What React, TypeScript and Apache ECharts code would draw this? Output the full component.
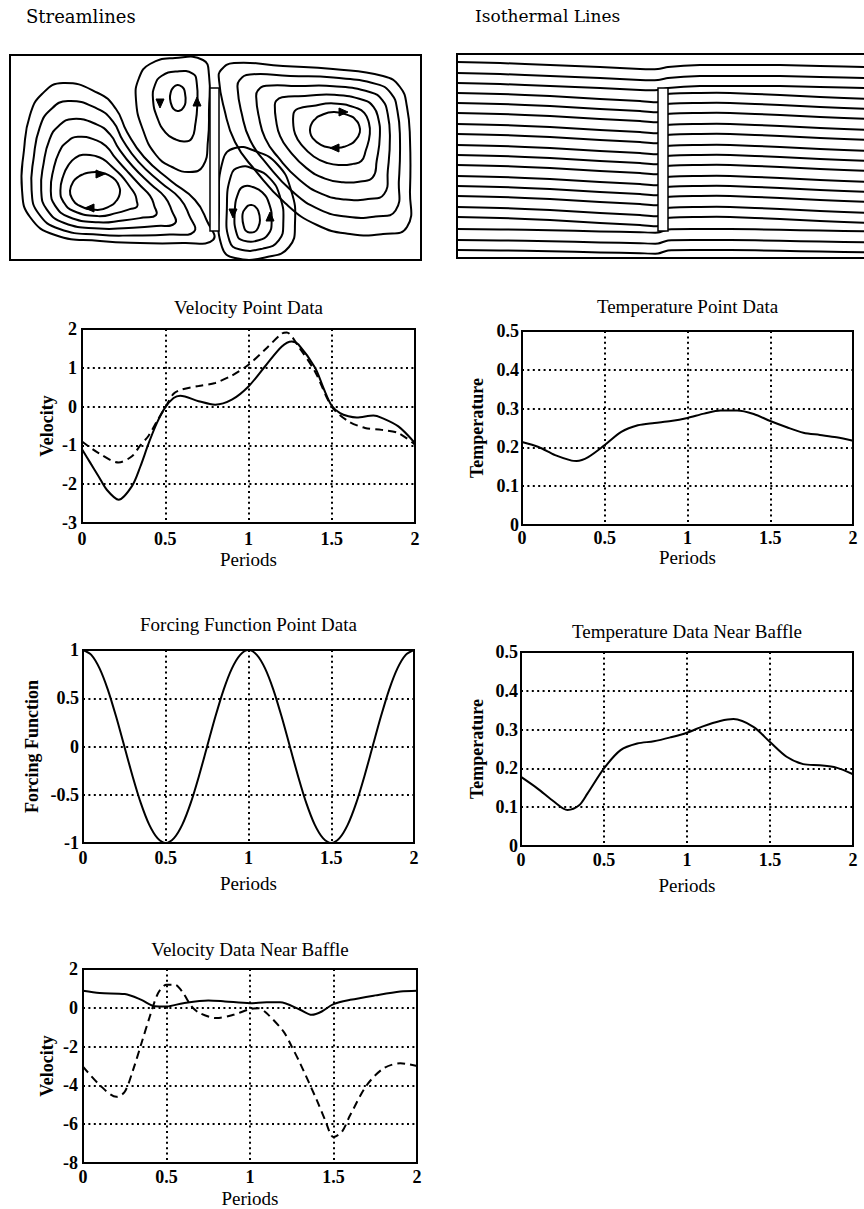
import React, { useEffect, useRef } from "react";
import * as echarts from "echarts";

// ---- Line chart data: [period, value] ----
const velocityPointSolid = [
  [0, -1.1], [0.05, -1.45], [0.1, -1.8], [0.15, -2.15], [0.22, -2.4], [0.3, -2.05], [0.35, -1.55],
  [0.4, -0.95], [0.45, -0.42], [0.5, -0.02], [0.55, 0.22], [0.59, 0.28], [0.7, 0.14], [0.8, 0.05],
  [0.9, 0.18], [1.0, 0.52], [1.1, 1.04], [1.2, 1.55], [1.26, 1.68], [1.3, 1.6], [1.4, 1.0],
  [1.45, 0.48], [1.5, 0.02], [1.55, -0.17], [1.6, -0.25], [1.65, -0.28], [1.75, -0.23],
  [1.8, -0.29], [1.9, -0.51], [2.0, -0.94],
];
const velocityPointDashed = [
  [0, -0.9], [0.1, -1.2], [0.22, -1.44], [0.3, -1.28], [0.35, -1.0], [0.4, -0.75], [0.45, -0.38],
  [0.5, -0.02], [0.55, 0.33], [0.6, 0.44], [0.7, 0.53], [0.8, 0.61], [0.9, 0.8], [1.0, 1.08],
  [1.1, 1.47], [1.2, 1.88], [1.23, 1.91], [1.3, 1.55], [1.4, 0.9], [1.5, 0.0], [1.6, -0.38],
  [1.7, -0.55], [1.8, -0.6], [1.9, -0.68], [2.0, -0.98],
];
const temperaturePoint = [
  [0, 0.214], [0.1, 0.201], [0.2, 0.18], [0.3, 0.166], [0.33, 0.165], [0.4, 0.175], [0.5, 0.206],
  [0.6, 0.24], [0.7, 0.257], [0.8, 0.263], [0.9, 0.268], [1.0, 0.276], [1.1, 0.287], [1.2, 0.295],
  [1.3, 0.295], [1.4, 0.286], [1.5, 0.268], [1.6, 0.252], [1.7, 0.238], [1.8, 0.232], [1.9, 0.226],
  [2.0, 0.217],
];
const forcingPeriods = [
  0, 0.05, 0.1, 0.15, 0.2, 0.25, 0.3, 0.35, 0.4, 0.45, 0.5, 0.55, 0.6, 0.65, 0.7, 0.75, 0.8, 0.85,
  0.9, 0.95, 1.0, 1.05, 1.1, 1.15, 1.2, 1.25, 1.3, 1.35, 1.4, 1.45, 1.5, 1.55, 1.6, 1.65, 1.7, 1.75,
  1.8, 1.85, 1.9, 1.95, 2.0,
];
const forcingValues = [
  1.0, 0.95, 0.81, 0.59, 0.31, 0.0, -0.31, -0.59, -0.81, -0.95, -1.0, -0.95, -0.81, -0.59, -0.31,
  0.0, 0.31, 0.59, 0.81, 0.95, 1.0, 0.95, 0.81, 0.59, 0.31, 0.0, -0.31, -0.59, -0.81, -0.95, -1.0,
  -0.95, -0.81, -0.59, -0.31, 0.0, 0.31, 0.59, 0.81, 0.95, 1.0,
];
const temperatureBaffle = [
  [0, 0.178], [0.1, 0.148], [0.2, 0.114], [0.28, 0.093], [0.35, 0.105], [0.4, 0.135], [0.5, 0.2],
  [0.6, 0.247], [0.7, 0.264], [0.8, 0.27], [0.9, 0.28], [1.0, 0.292], [1.1, 0.309], [1.2, 0.322],
  [1.28, 0.327], [1.4, 0.307], [1.5, 0.268], [1.6, 0.23], [1.7, 0.211], [1.8, 0.208], [1.9, 0.202],
  [2.0, 0.185],
];
const velocityBaffleSolid = [
  [0, 0.88], [0.1, 0.76], [0.25, 0.71], [0.35, 0.41], [0.43, 0.08], [0.5, 0.07], [0.6, 0.24],
  [0.75, 0.38], [0.85, 0.33], [1.0, 0.24], [1.1, 0.28], [1.18, 0.28], [1.3, -0.1], [1.37, -0.36],
  [1.43, -0.19], [1.5, 0.19], [1.6, 0.41], [1.75, 0.64], [1.9, 0.84], [2.0, 0.88],
];
const velocityBaffleDashed = [
  [0, -3.03], [0.1, -3.98], [0.2, -4.59], [0.25, -4.33], [0.3, -3.2], [0.35, -1.83], [0.4, -0.45],
  [0.45, 0.76], [0.5, 1.19], [0.55, 1.19], [0.6, 0.76], [0.65, 0.07], [0.7, -0.28], [0.8, -0.53],
  [0.9, -0.36], [1.0, -0.07], [1.05, -0.02], [1.1, -0.28], [1.2, -1.22], [1.25, -2.0], [1.3, -2.86],
  [1.4, -4.76], [1.45, -5.79], [1.5, -6.66], [1.55, -6.4], [1.6, -5.53], [1.7, -3.98], [1.8, -3.12],
  [1.9, -2.86], [2.0, -3.0],
];

// ---- Streamline sketch: each cell has an outer contour and an inner ellipse ----
const cells = [
  {
    cx: 95, cy: 191, rx: 25, ry: 19, loops: 6,
    outline: [[63, 83], [98, 93], [116, 109], [127, 132], [144, 157], [171, 181], [195, 200], [207, 221],
      [213, 240], [183, 243], [140, 243], [100, 241], [55, 235], [30, 217], [22, 190], [24, 150], [30, 115], [42, 94]],
  },
  {
    cx: 178, cy: 98, rx: 8, ry: 13, loops: 3,
    outline: [[150, 64], [175, 58], [203, 60], [209, 75], [209, 110], [208, 140], [203, 166], [190, 172],
      [172, 167], [156, 155], [143, 130], [136, 100], [139, 78]],
  },
  {
    cx: 251, cy: 219, rx: 9, ry: 14, loops: 4,
    outline: [[223, 160], [235, 148], [255, 151], [277, 164], [291, 190], [295, 223], [289, 247], [267, 257],
      [235, 258], [222, 247], [219, 207]],
  },
  {
    cx: 335, cy: 130, rx: 25, ry: 18, loops: 6,
    outline: [[221, 70], [234, 63], [283, 66], [333, 69], [383, 76], [400, 87], [407, 107], [410, 140],
      [410, 190], [407, 227], [383, 234], [350, 234], [317, 225], [285, 203], [255, 170], [235, 142], [224, 108], [219, 80]],
  },
];
// flow arrows: x, y, heading in degrees (screen coordinates)
const flowArrows = [
  [100, 174, 0], [90, 208, 180], [160, 103, 90], [197, 102, -90],
  [233, 213, 90], [270, 217, -90], [343, 112, 0], [335, 148, 180],
];

// ---- Isotherm sketch ----
const isothermLevels = [62, 73, 83, 93, 103, 113, 124, 134, 145, 155, 165, 176, 186, 196, 207, 217, 229, 240, 250];
const isothermProfileX = [457, 500, 550, 600, 640, 658, 668, 700, 730, 780, 820, 870];
const isothermProfileDy = [0, 1, 3, 6, 8, 9, 1, 0, 0, 2, 4, 6];
const isothermOverTopDy = [0, 1, 3, 5, 7, 7, 5, 3, 3, 3, 4, 5];

const FONT = "Liberation Serif";
const INK = "#000";

function cellLoops(c: any) {
  const out: any[] = [];
  for (let k = 0; k < c.loops; k++) {
    const t = k / (c.loops - 1);
    const pts = c.outline.map(([px, py]: number[]) => {
      const a = Math.atan2(py - c.cy, px - c.cx);
      const ex = c.cx + c.rx * Math.cos(a);
      const ey = c.cy + c.ry * Math.sin(a);
      return [px + (ex - px) * t, py + (ey - py) * t];
    });
    out.push({
      type: "polygon",
      shape: { points: pts, smooth: 0.5 },
      style: { fill: "none", stroke: INK, lineWidth: 2 },
      silent: true,
    });
  }
  return out;
}

function arrowHead([x, y, deg]: number[]) {
  const a = (deg * Math.PI) / 180;
  const c = Math.cos(a), s = Math.sin(a);
  return {
    type: "polygon",
    shape: {
      points: [
        [x + 5 * c, y + 5 * s],
        [x - 4 * c - 4 * s, y - 4 * s + 4 * c],
        [x - 4 * c + 4 * s, y - 4 * s - 4 * c],
      ],
    },
    style: { fill: INK, stroke: INK, lineWidth: 1 },
    silent: true,
  };
}

function isothermLine(base: number) {
  const over = base < 88;
  const amp = base > 225 ? 0.4 : 1;
  const profile = over ? isothermOverTopDy : isothermProfileDy;
  const pts = isothermProfileX.map((x, i) => [x, base + profile[i] * amp]);
  return {
    type: "polyline",
    shape: { points: pts, smooth: 0.2 },
    style: { fill: "none", stroke: INK, lineWidth: 2 },
    silent: true,
  };
}

const panels = [
  { title: "Velocity Point Data", yName: "Velocity", left: 82, top: 329, width: 333, height: 194,
    min: -3, max: 2, interval: 1, titleTop: 298, yGap: 26, xGap: 27, xMargin: 7, yMargin: 5,
    series: [{ data: velocityPointSolid, dashed: false }, { data: velocityPointDashed, dashed: true }] },
  { title: "Temperature Point Data", yName: "Temperature", left: 522, top: 331, width: 331, height: 194,
    min: 0, max: 0.5, interval: 0.1, titleTop: 297, yGap: 36, xGap: 23, xMargin: 4, yMargin: 3,
    series: [{ data: temperaturePoint, dashed: false }] },
  { title: "Forcing Function Point Data", yName: "Forcing Function", left: 83, top: 650, width: 331, height: 193,
    min: -1, max: 1, interval: 0.5, titleTop: 615, yGap: 42, xGap: 31, xMargin: 6, yMargin: 4,
    series: [{ data: forcingPeriods.map((p, i) => [p, forcingValues[i]]), dashed: false }] },
  { title: "Temperature Data Near Baffle", yName: "Temperature", left: 521, top: 652, width: 332, height: 194,
    min: 0, max: 0.5, interval: 0.1, titleTop: 622, yGap: 35, xGap: 30, xMargin: 5, yMargin: 3,
    series: [{ data: temperatureBaffle, dashed: false }] },
  { title: "Velocity Data Near Baffle", yName: "Velocity", left: 83, top: 969, width: 334, height: 194,
    min: -8, max: 2, interval: 2, titleTop: 940, yGap: 27, xGap: 26, xMargin: 5, yMargin: 5,
    series: [{ data: velocityBaffleSolid, dashed: false }, { data: velocityBaffleDashed, dashed: true }] },
];

function buildOption() {
  const dotted = { color: INK, width: 2, type: [2, 3.4] as any };
  const grid = panels.map((p) => ({
    left: p.left, top: p.top, width: p.width, height: p.height,
    show: true, borderColor: INK, borderWidth: 2, backgroundColor: "transparent", containLabel: false,
  }));
  const title = panels.map((p) => ({
    text: p.title, left: p.left + p.width / 2, top: p.titleTop, textAlign: "center", padding: 0,
    textStyle: { fontFamily: FONT, fontSize: 19, fontWeight: "normal", color: INK },
  }));
  const xAxis = panels.map((p, i) => ({
    type: "value", gridIndex: i, min: 0, max: 2, interval: 0.5,
    name: "Periods", nameLocation: "middle", nameGap: p.xGap,
    nameTextStyle: { fontFamily: FONT, fontSize: 19, color: INK },
    axisLine: { show: false }, axisTick: { show: false },
    axisLabel: { margin: p.xMargin, fontFamily: FONT, fontSize: 18, fontWeight: "bold", color: INK },
    splitLine: { show: true, lineStyle: dotted },
  }));
  const yAxis = panels.map((p, i) => ({
    type: "value", gridIndex: i, min: p.min, max: p.max, interval: p.interval,
    name: p.yName, nameLocation: "middle", nameRotate: 90, nameGap: p.yGap,
    nameTextStyle: { fontFamily: FONT, fontSize: 18, fontWeight: "bold", color: INK },
    axisLine: { show: false }, axisTick: { show: false },
    axisLabel: { margin: p.yMargin, fontFamily: FONT, fontSize: 18, fontWeight: "bold", color: INK },
    splitLine: { show: true, lineStyle: dotted },
  }));
  const series: any[] = [];
  panels.forEach((p, i) => {
    p.series.forEach((s) => {
      series.push({
        type: "line", xAxisIndex: i, yAxisIndex: i, data: s.data, showSymbol: false, smooth: 0.3,
        lineStyle: { color: INK, width: 2, type: s.dashed ? [8, 5] : "solid" },
        silent: true,
      });
    });
  });

  const elements: any[] = [];
  // captions
  elements.push({ type: "text", left: 26, top: 7, style: { text: "Streamlines", fontFamily: "DejaVu Serif", fontSize: 18, fill: INK } });
  elements.push({ type: "text", left: 475, top: 7, style: { text: "Isothermal Lines", fontFamily: "DejaVu Serif", fontSize: 17, fill: INK } });
  // streamline panel
  elements.push({ type: "rect", shape: { x: 10, y: 55, width: 411, height: 205 }, style: { fill: "#fff", stroke: INK, lineWidth: 2 }, silent: true });
  cells.forEach((c) => elements.push(...cellLoops(c)));
  flowArrows.forEach((a) => elements.push(arrowHead(a)));
  elements.push({ type: "rect", shape: { x: 210, y: 88, width: 9, height: 143 }, style: { fill: "#fff", stroke: INK, lineWidth: 1.5 }, silent: true });
  // isotherm panel
  elements.push({ type: "rect", shape: { x: 457, y: 54, width: 430, height: 204 }, style: { fill: "#fff", stroke: INK, lineWidth: 2 }, silent: true });
  isothermLevels.forEach((b) => elements.push(isothermLine(b)));
  elements.push({ type: "rect", shape: { x: 658, y: 88, width: 10, height: 143 }, style: { fill: "#fff", stroke: INK, lineWidth: 1.5 }, silent: true });

  return {
    animation: false,
    backgroundColor: "#fff",
    title, grid, xAxis, yAxis, series,
    graphic: { elements },
  };
}

export default function App() {
  const ref = useRef<HTMLDivElement>(null);
  useEffect(() => {
    const chart = echarts.init(ref.current!, null, { renderer: "svg" });
    chart.setOption(buildOption() as any);
    return () => chart.dispose();
  }, []);
  return (
    <div
      ref={ref}
      style={{ position: "absolute", left: 0, top: 0, width: 864, height: 1209, background: "#fff" }}
    />
  );
}
